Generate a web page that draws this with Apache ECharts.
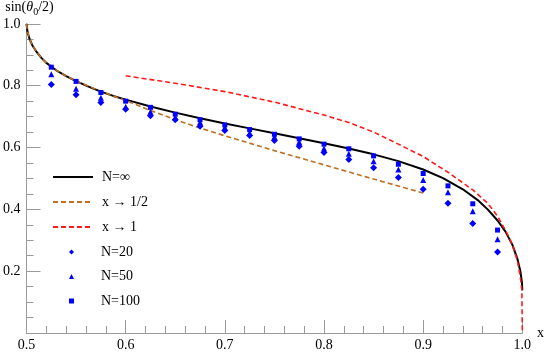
<!DOCTYPE html>
<html>
<head>
<meta charset="utf-8">
<script src="https://cdn.jsdelivr.net/npm/echarts/dist/echarts.min.js"></script>
<style>
  html, body { margin: 0; padding: 0; background: #fff; }
  #chart { width: 547px; height: 353px; }
</style>
</head>
<body>
<div id="chart"></div>
<script>
// N = infinity curve
const infX = [0.5, 0.501, 0.503, 0.506, 0.51, 0.515, 0.52, 0.53, 0.54, 0.55, 0.5625, 0.575, 0.5875, 0.6, 0.625, 0.65,
  0.675, 0.7, 0.725, 0.75, 0.775, 0.8, 0.825, 0.85, 0.875, 0.9, 0.92, 0.94, 0.955, 0.965, 0.975, 0.983, 0.99, 0.995,
  0.998, 0.9995, 1.0];
const infY = [1.0, 0.975, 0.952, 0.93, 0.91, 0.89, 0.874, 0.85, 0.831, 0.815, 0.797, 0.781, 0.767, 0.755, 0.733, 0.713,
  0.695, 0.678, 0.662, 0.646, 0.630, 0.614, 0.597, 0.578, 0.556, 0.529, 0.501, 0.465, 0.430, 0.400, 0.364, 0.328, 0.285, 0.24,
  0.2, 0.165, 0.138];

// x -> 1/2 asymptote
const halfX = [0.5, 0.501, 0.503, 0.506, 0.51, 0.515, 0.52, 0.53, 0.54, 0.55, 0.575, 0.6, 0.625, 0.65, 0.675, 0.7,
  0.75, 0.8, 0.85, 0.9];
const halfY = [1.0, 0.975, 0.952, 0.93, 0.91, 0.89, 0.874, 0.85, 0.831, 0.815, 0.782, 0.752, 0.72, 0.69, 0.663, 0.638,
  0.59, 0.544, 0.498, 0.453];

// x -> 1 asymptote
const oneX = [0.6, 0.65, 0.7, 0.75, 0.8, 0.825, 0.85, 0.875, 0.9, 0.925, 0.95, 0.965, 0.975, 0.985, 0.99, 0.995,
  0.998, 0.9995, 1.0];
const oneY = [0.832, 0.808, 0.781, 0.747, 0.705, 0.681, 0.65, 0.611, 0.571, 0.52, 0.463, 0.42, 0.378, 0.32, 0.285, 0.235,
  0.18, 0.14, 0.0];

// finite N points
const xPts = [0.525, 0.55, 0.575, 0.6, 0.625, 0.65, 0.675, 0.7, 0.725, 0.75, 0.775, 0.8, 0.825, 0.85, 0.875, 0.9, 0.925, 0.95, 0.975];
const n20 = [0.804, 0.771, 0.746, 0.724, 0.703, 0.690, 0.669, 0.655, 0.639, 0.623, 0.604, 0.584, 0.561, 0.535, 0.503, 0.465, 0.420, 0.354, 0.262];
const n50 = [0.837, 0.790, 0.761, 0.732, 0.716, 0.698, 0.682, 0.665, 0.647, 0.635, 0.618, 0.597, 0.580, 0.556, 0.529, 0.495, 0.455, 0.394, 0.303];
const n100 = [0.860, 0.814, 0.778, 0.750, 0.730, 0.708, 0.690, 0.673, 0.658, 0.643, 0.628, 0.611, 0.596, 0.573, 0.546, 0.516, 0.476, 0.418, 0.333];

const serif = '"Liberation Serif", "DejaVu Serif", serif';

function zip(xs, ys) {
  return xs.map((x, i) => [x, ys[i]]);
}

const chart = echarts.init(document.getElementById('chart'));

const option = {
  animation: false,
  grid: { left: 26, right: 23, top: 20.5, bottom: 20 },
  legend: [
    {
      // line entries, no symbol in the icon
      orient: 'vertical',
      left: 52,
      top: 170,
      padding: 0,
      itemWidth: 40,
      itemHeight: 14,
      itemGap: 11,
      data: ['N=∞', 'x → 1/2', 'x → 1'],
      itemStyle: { color: 'rgba(0,0,0,0)', borderWidth: 0 },
      textStyle: { fontFamily: serif, fontSize: 14, color: '#000', padding: [0, 0, 0, 4] }
    },
    {
      orient: 'vertical',
      left: 69,
      top: 245,
      padding: 0,
      itemWidth: 5,
      itemHeight: 5,
      itemGap: 10.5,
      data: ['N=20', 'N=50', 'N=100'],
      textStyle: { fontFamily: serif, fontSize: 14, color: '#000', padding: [0, 0, 0, 22], lineHeight: 14 }
    }
  ],
  xAxis: {
    type: 'value',
    min: 0.5,
    max: 1.0,
    interval: 0.1,
    name: 'x',
    nameLocation: 'end',
    nameGap: 14,
    nameTextStyle: { fontFamily: serif, fontSize: 14, color: '#000' },
    axisLine: { lineStyle: { color: '#999' } },
    axisTick: { inside: true, length: 13, lineStyle: { color: '#999' } },
    minorTick: { show: true, splitNumber: 5, length: 7, lineStyle: { color: '#999' } },
    splitLine: { show: false },
    axisLabel: {
      margin: 5, fontFamily: serif, fontSize: 14, color: '#000',
      formatter: v => v.toFixed(1)
    }
  },
  yAxis: {
    type: 'value',
    min: 0,
    max: 1.0,
    interval: 0.2,
    name: '{a|sin(}{b|θ}{c|0}{a|/2)}',
    nameLocation: 'end',
    nameGap: 3,
    nameTextStyle: {
      padding: [0, 0, 0, 6],
      rich: {
        a: { fontFamily: serif, fontSize: 14, color: '#000', lineHeight: 17, verticalAlign: 'top' },
        b: { fontFamily: serif, fontSize: 14, color: '#000', fontStyle: 'italic', lineHeight: 17, verticalAlign: 'top' },
        c: { fontFamily: serif, fontSize: 10, color: '#000', lineHeight: 17, verticalAlign: 'bottom' }
      }
    },
    axisLine: { show: true, lineStyle: { color: '#999' } },
    axisTick: { show: true, inside: true, length: 14, lineStyle: { color: '#999' } },
    minorTick: { show: true, splitNumber: 4, length: 7, lineStyle: { color: '#999' } },
    splitLine: { show: false },
    axisLabel: {
      margin: 6, fontFamily: serif, fontSize: 14, color: '#000',
      formatter: v => (v === 0 ? '' : v.toFixed(1))
    }
  },
  series: [
    {
      name: 'N=∞',
      type: 'line',
      data: zip(infX, infY),
      symbol: 'none',
      lineStyle: { color: '#000', width: 2 },
      itemStyle: { color: '#000' },
      z: 3
    },
    {
      name: 'x → 1/2',
      type: 'line',
      data: zip(halfX, halfY),
      symbol: 'none',
      lineStyle: { color: '#bf6f22', width: 1.6, type: [5, 3] },
      itemStyle: { color: '#bf6f22' },
      z: 4
    },
    {
      name: 'x → 1',
      type: 'line',
      data: zip(oneX, oneY),
      symbol: 'none',
      lineStyle: { color: '#ff1a1a', width: 1.6, type: [5, 3] },
      itemStyle: { color: '#ff1a1a' },
      z: 4
    },
    {
      name: 'N=20',
      type: 'scatter',
      data: zip(xPts, n20),
      symbol: 'diamond',
      symbolSize: 7,
      itemStyle: { color: '#0000ff', opacity: 1 },
      z: 5
    },
    {
      name: 'N=50',
      type: 'scatter',
      data: zip(xPts, n50),
      symbol: 'triangle',
      symbolSize: 6,
      itemStyle: { color: '#0000ff', opacity: 1 },
      z: 5
    },
    {
      name: 'N=100',
      type: 'scatter',
      data: zip(xPts, n100),
      symbol: 'rect',
      symbolSize: 5,
      itemStyle: { color: '#0000ff', opacity: 1 },
      z: 5
    }
  ]
};

chart.setOption(option);
</script>
</body>
</html>
